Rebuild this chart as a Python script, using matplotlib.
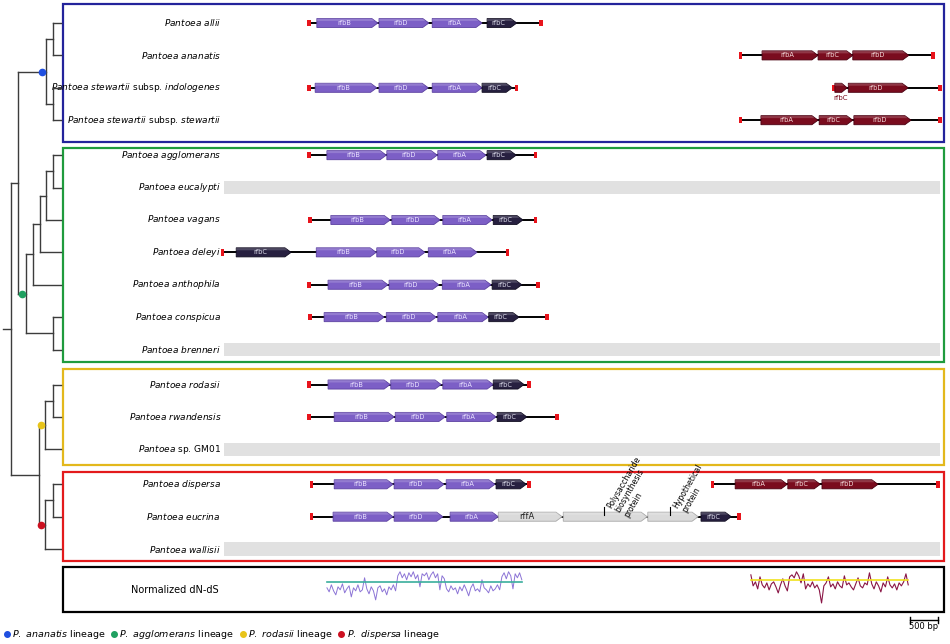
import numpy as np
import matplotlib.pyplot as plt
from matplotlib.patches import Polygon, Rectangle
from matplotlib.lines import Line2D

plt.rcParams['font.family'] = 'DejaVu Sans'
plt.rcParams['mathtext.fontset'] = 'dejavusans'

# ---- data ---------------------------------------------------------------
SPECIES = [
    'Pantoea allii', 'Pantoea ananatis',
    'Pantoea stewartii subsp. indologenes', 'Pantoea stewartii subsp. stewartii',
    'Pantoea agglomerans', 'Pantoea eucalypti', 'Pantoea vagans',
    'Pantoea deleyi', 'Pantoea anthophila', 'Pantoea conspicua',
    'Pantoea brenneri',
    'Pantoea rodasii', 'Pantoea rwandensis', 'Pantoea sp. GM01',
    'Pantoea dispersa', 'Pantoea eucrina', 'Pantoea wallisii',
]
LINEAGE = [0] * 4 + [1] * 7 + [2] * 3 + [3] * 3
LINEAGE_NAMES = ['P. ananatis', 'P. agglomerans', 'P. rodasii', 'P. dispersa']

# tree: (node depth, children, lineage index or None); leaves are names
TREE = (8, [
    (15, [
        (43, [(50, ['Pantoea allii', 'Pantoea ananatis']),
              (50, ['Pantoea stewartii subsp. indologenes',
                    'Pantoea stewartii subsp. stewartii'])], 0),
        (23, [(30, [(37, [(43, [(50, ['Pantoea agglomerans', 'Pantoea eucalypti']),
                                'Pantoea vagans']),
                          'Pantoea deleyi']),
                    'Pantoea anthophila']),
              (50, ['Pantoea conspicua', 'Pantoea brenneri'])], 1),
    ]),
    (36, [
        (42, [(50, ['Pantoea rodasii', 'Pantoea rwandensis']),
              'Pantoea sp. GM01'], 2),
        (42, [(50, ['Pantoea dispersa', 'Pantoea eucrina']),
              'Pantoea wallisii'], 3),
    ]),
])
TIP_DEPTH = 58

# rfb cluster (bp) - first locus
LEFT_LOCUS = {
    'Pantoea allii': (0, 4140),
    'Pantoea stewartii subsp. indologenes': (0, 3700),
    'Pantoea agglomerans': (0, 4050),
    'Pantoea vagans': (20, 4040),
    'Pantoea deleyi': (-1550, 3550),
    'Pantoea anthophila': (0, 4090),
    'Pantoea conspicua': (20, 4250),
    'Pantoea rodasii': (0, 3930),
    'Pantoea rwandensis': (0, 4430),
    'Pantoea dispersa': (50, 3930),
    'Pantoea eucrina': (50, 7680),
}
LEFT_GENES = {
    'Pantoea allii': [('rfbB', 140, 1230), ('rfbD', 1250, 2140),
                      ('rfbA', 2200, 3090), ('rfbC', 3180, 3710)],
    'Pantoea stewartii subsp. indologenes': [('rfbB', 110, 1210), ('rfbD', 1250, 2130),
                                             ('rfbA', 2200, 3090), ('rfbC', 3090, 3630)],
    'Pantoea agglomerans': [('rfbB', 320, 1380), ('rfbD', 1390, 2290),
                            ('rfbA', 2300, 3160), ('rfbC', 3180, 3700)],
    'Pantoea vagans': [('rfbB', 390, 1450), ('rfbD', 1480, 2340),
                       ('rfbA', 2390, 3270), ('rfbC', 3290, 3820)],
    'Pantoea deleyi': [('rfbC', -1300, -320), ('rfbB', 130, 1200),
                       ('rfbD', 1210, 2070), ('rfbA', 2130, 3000)],
    'Pantoea anthophila': [('rfbB', 340, 1410), ('rfbD', 1430, 2320),
                           ('rfbA', 2380, 3250), ('rfbC', 3270, 3800)],
    'Pantoea conspicua': [('rfbB', 270, 1340), ('rfbD', 1380, 2270),
                          ('rfbA', 2300, 3200), ('rfbC', 3210, 3750)],
    'Pantoea rodasii': [('rfbB', 340, 1450), ('rfbD', 1460, 2360),
                        ('rfbA', 2390, 3290), ('rfbC', 3290, 3840)],
    'Pantoea rwandensis': [('rfbB', 450, 1520), ('rfbD', 1540, 2430),
                           ('rfbA', 2460, 3340), ('rfbC', 3360, 3890)],
    'Pantoea dispersa': [('rfbB', 450, 1500), ('rfbD', 1520, 2410),
                         ('rfbA', 2450, 3320), ('rfbC', 3340, 3880)],
    'Pantoea eucrina': [('rfbB', 430, 1500), ('rfbD', 1520, 2390),
                        ('rfbA', 2520, 3380), ('rffA', 3380, 4520),
                        ('', 4540, 6040), ('', 6050, 6950), ('rfbC', 7000, 7540)],
}
# second locus
RIGHT_LOCUS = {
    'Pantoea ananatis': (7700, 11140),
    'Pantoea stewartii subsp. indologenes': (9360, 11270),
    'Pantoea stewartii subsp. stewartii': (7700, 11270),
    'Pantoea dispersa': (7200, 11230),
}
RIGHT_GENES = {
    'Pantoea ananatis': [('rfbA', 8090, 9090), ('rfbC', 9090, 9710), ('rfbD', 9710, 10710)],
    'Pantoea stewartii subsp. indologenes': [('rfbC', 9390, 9610), ('rfbD', 9630, 10700)],
    'Pantoea stewartii subsp. stewartii': [('rfbA', 8070, 9090), ('rfbC', 9110, 9710),
                                           ('rfbD', 9730, 10750)],
    'Pantoea dispersa': [('rfbA', 7610, 8540), ('rfbC', 8550, 9130), ('rfbD', 9160, 10160)],
}
EUCRINA_NOTES = [('Polysaccharide\nbiosynthesis\nprotein', 5270),
                 ('Hypothetical\nprotein', 6450)]

# normalized dN-dS windows
DNDS_LEFT_RANGE = (320, 3800)
DNDS_LEFT = [
    -0.6, -1.0, -0.3, -0.9, -1.3, -0.5, -0.8, -0.2, -1.1, -0.7, -0.4, -1.5,
    -0.6, -0.9, -0.3, -1.0, -0.8, 0.4, -0.7, -1.2, -0.5, -0.9, -1.8, -0.6,
    -0.4, -1.0, -0.7, -1.3, -0.5, -0.8, -0.3, -0.9,
    0.6, 1.0, 0.4, 0.8, 0.2, 0.9, 0.5, 1.0, 0.3, 0.7, -0.5, 0.8, 0.6, 0.9,
    0.2, 0.7, 1.0, 0.4, 0.8, -0.8, 0.6, 0.3,
    -0.7, -1.0, -0.4, -0.8, -0.6, -1.2, -0.5, -0.9, -0.3, -0.8, -1.4, -0.6,
    -0.2, -0.9, -0.7, -1.0, 0.2, -0.6, -0.8, -1.1, -0.4, -0.9, -0.7, -0.3, -0.8,
    0.5, 0.9, 0.3, 1.0, 0.6, -0.7, 0.8, 0.4, 0.9, 0.2,
]
DNDS_RIGHT_RANGE = (7890, 10700)
DNDS_RIGHT = [
    0.5, -0.6, -0.2, -0.9, 0.3, -0.5, -0.8, -0.3, -1.0, -0.4, -0.2, -0.7,
    -1.3, -0.5, 0.1, -0.6, -1.1, 0.3, 0.5, 0.2, 0.8, 0.4, -0.3, 0.6, -0.9,
    -0.4, -0.7, -0.2, -0.8, -0.5, -1.0, -2.3, -0.6, -0.3, 0.3, -0.7, -0.4,
    -0.9, -0.2, -0.6, -0.8, 0.4, -0.5, -0.3, -0.7, -1.0, -0.4, 0.2, -0.6,
    -0.8, -0.3, -0.5, 0.7, -0.4, -0.9, -0.2, -0.6, -1.2, -0.3, -0.7, 0.3,
    -0.5, -0.8, -0.4, -1.0, -0.3, -0.6, -0.2, 0.6, -0.5,
]
SCALE_BAR_BP = 500

# ---- style / layout -----------------------------------------------------
BOX_COLORS = ['#23239b', '#1f9b3d', '#e3b81c', '#e31a1c']
DOT_COLORS = ['#1f4fe0', '#1fa060', '#e8c41a', '#cc1020']
PURPLE, NAVY, MAROON, GREY = '#7c5fc6', '#272040', '#7a0c1e', '#dadada'
BOX_SPAN = [(-0.59, 3.67), (3.86, 10.46), (10.68, 13.64), (13.86, 16.6)]
DNDS_SPAN = (16.79, 18.18)
BOX_X = (-4393, 11340)
LABEL_X = -1570
GAP = 0.08
GENE_H = 0.28

row_pos = {name: i + GAP * LINEAGE[i] for i, name in enumerate(SPECIES)}


def italic_words(text, upright=()):
    '''Each word in italic mathtext unless listed as upright'''
    parts = []
    for w in text.split():
        if w in upright:
            parts.append(w)
        else:
            parts.append(r'$\it{' + w + '}$')
    return ' '.join(parts)


def draw_gene(ax, name, start, end, y, color, edge, txt_color):
    head = min(110, (end - start) * 0.45)
    h = GENE_H / 2
    pts = [(start, y - h), (end - head, y - h), (end, y),
           (end - head, y + h), (start, y + h)]
    ax.add_patch(Polygon(pts, closed=True, fc=color, ec=edge, lw=0.6, zorder=3))
    top = [(start, y - h), (end - head, y - h), (end - head * 0.55, y - h * 0.45),
           (start, y - h * 0.45)]
    ax.add_patch(Polygon(top, closed=True, fc='white', ec='none', alpha=0.18, zorder=4))
    if not name:
        return
    if end - start < 400:
        ax.text((start + end) / 2, y + 0.3, name, fontsize=5, color=color,
                ha='center', va='center', zorder=5)
    else:
        fs = 6 if name == 'rffA' else 4.8
        ax.text((start + end - head) / 2, y, name, fontsize=fs, color=txt_color,
                ha='center', va='center', zorder=5)


def draw_locus(ax, y, locus, genes, right):
    ax.plot(locus, [y, y], color='black', lw=1.4, zorder=2)
    for x in locus:
        ax.add_patch(Rectangle((x - 30, y - 0.1), 60, 0.2, fc='#e8141c',
                               ec='none', zorder=3))
    for name, s, e in genes:
        if right:
            draw_gene(ax, name, s, e, y, MAROON, '#4a0010', '#f3d9d9')
        elif name == 'rfbC':
            draw_gene(ax, name, s, e, y, NAVY, '#100c20', '#dcdcea')
        elif name.startswith('rfb'):
            draw_gene(ax, name, s, e, y, PURPLE, '#5b40a0', '#ebe4ff')
        else:
            draw_gene(ax, name, s, e, y, GREY, '#a8a8a8', '#222222')


def draw_tree(ax, node, parent_depth):
    if isinstance(node, str):
        y = row_pos[node]
        ax.plot([parent_depth, TIP_DEPTH], [y, y], color='#3c3c3c', lw=1)
        return y
    depth, children = node[0], node[1]
    ys = [draw_tree(ax, c, depth) for c in children]
    y = (min(ys) + max(ys)) / 2
    ax.plot([depth, depth], [min(ys), max(ys)], color='#3c3c3c', lw=1)
    ax.plot([parent_depth, depth], [y, y], color='#3c3c3c', lw=1)
    if len(node) > 2:
        ax.plot(depth - 4, y, 'o', color=DOT_COLORS[node[2]], ms=4.5, zorder=5)
    return y


def main():
    fig = plt.figure(figsize=(9.5, 6.44), dpi=100)
    ax = fig.add_axes([0, 0, 1, 1])
    ax.set_xlim(-5518, 11446)
    ax.set_ylim(19.17, -0.71)
    ax.axis('off')

    # lineage boxes
    for (top, bottom), c in zip(BOX_SPAN, BOX_COLORS):
        ax.add_patch(Rectangle((BOX_X[0], top), BOX_X[1] - BOX_X[0], bottom - top,
                               fill=False, ec=c, lw=1.6, zorder=1))
    ax.add_patch(Rectangle((BOX_X[0], DNDS_SPAN[0]), BOX_X[1] - BOX_X[0],
                           DNDS_SPAN[1] - DNDS_SPAN[0], fill=False, ec='black',
                           lw=1.6, zorder=1))

    for name in SPECIES:
        y = row_pos[name]
        label = italic_words(name, upright=('subsp.', 'sp.', 'GM01'))
        ax.text(LABEL_X, y, label, ha='right', va='center', fontsize=6.5)
        has_locus = False
        if name in LEFT_LOCUS:
            draw_locus(ax, y, LEFT_LOCUS[name], LEFT_GENES[name], False)
            has_locus = True
        if name in RIGHT_LOCUS:
            draw_locus(ax, y, RIGHT_LOCUS[name], RIGHT_GENES[name], True)
            has_locus = True
        if not has_locus:
            ax.add_patch(Rectangle((LABEL_X + 50, y - 0.21), BOX_X[1] - 70 - LABEL_X - 50,
                                   0.42, fc='#e1e1e1', ec='none', zorder=1))

    # eucrina annotations
    y = row_pos['Pantoea eucrina']
    for text, x in EUCRINA_NOTES:
        ax.plot([x, x], [y - 0.06, y - 0.3], color='black', lw=0.8, zorder=5)
        ax.text(x + 30, y - 0.36, text, rotation=60, rotation_mode='anchor',
                ha='left', va='top', fontsize=5.6, linespacing=1.05, zorder=5)

    # dN-dS traces
    base_l, base_r, scale = 17.25, 17.19, 0.31
    xl = np.linspace(*DNDS_LEFT_RANGE, len(DNDS_LEFT))
    ax.plot(xl, base_l - np.array(DNDS_LEFT) * scale, color='#8c74d6', lw=0.7, zorder=3)
    ax.plot(DNDS_LEFT_RANGE, [base_l, base_l], color='#3aae9c', lw=1.2, zorder=4)
    xr = np.linspace(*DNDS_RIGHT_RANGE, len(DNDS_RIGHT))
    ax.plot(xr, base_r - np.array(DNDS_RIGHT) * scale, color='#8a1646', lw=0.8, zorder=3)
    ax.plot(DNDS_RIGHT_RANGE, [base_r, base_r], color='#f0e21c', lw=1.2, zorder=4)
    ax.text(-2393, 17.5, 'Normalized dN-dS', ha='center', va='center', fontsize=7)

    # scale bar
    sb0 = 10730
    ax.plot([sb0, sb0 + SCALE_BAR_BP], [18.43, 18.43], color='black', lw=1)
    for x in (sb0, sb0 + SCALE_BAR_BP):
        ax.plot([x, x], [18.33, 18.53], color='black', lw=1)
    ax.text(sb0 + SCALE_BAR_BP / 2, 18.5, '500 bp', ha='center', va='top', fontsize=6)

    # tree
    tax = fig.add_axes([0, 0, 63 / 950, 1])
    tax.set_xlim(-3, 60)
    tax.set_ylim(19.17, -0.71)
    tax.axis('off')
    tax.patch.set_alpha(0)
    draw_tree(tax, TREE, 0)

    handles = [Line2D([], [], marker='o', ls='', color=c, ms=4) for c in DOT_COLORS]
    labels = [italic_words(n + ' lineage', upright=('lineage',)) for n in LINEAGE_NAMES]
    fig.legend(handles, labels, loc='lower left', bbox_to_anchor=(0, 0), ncol=4,
               frameon=False, fontsize=6.8, handletextpad=0.15, columnspacing=0.5,
               handlelength=0.8, borderaxespad=0.1, borderpad=0.2)

    fig.savefig('out.png', dpi=100)


if __name__ == '__main__':
    main()
